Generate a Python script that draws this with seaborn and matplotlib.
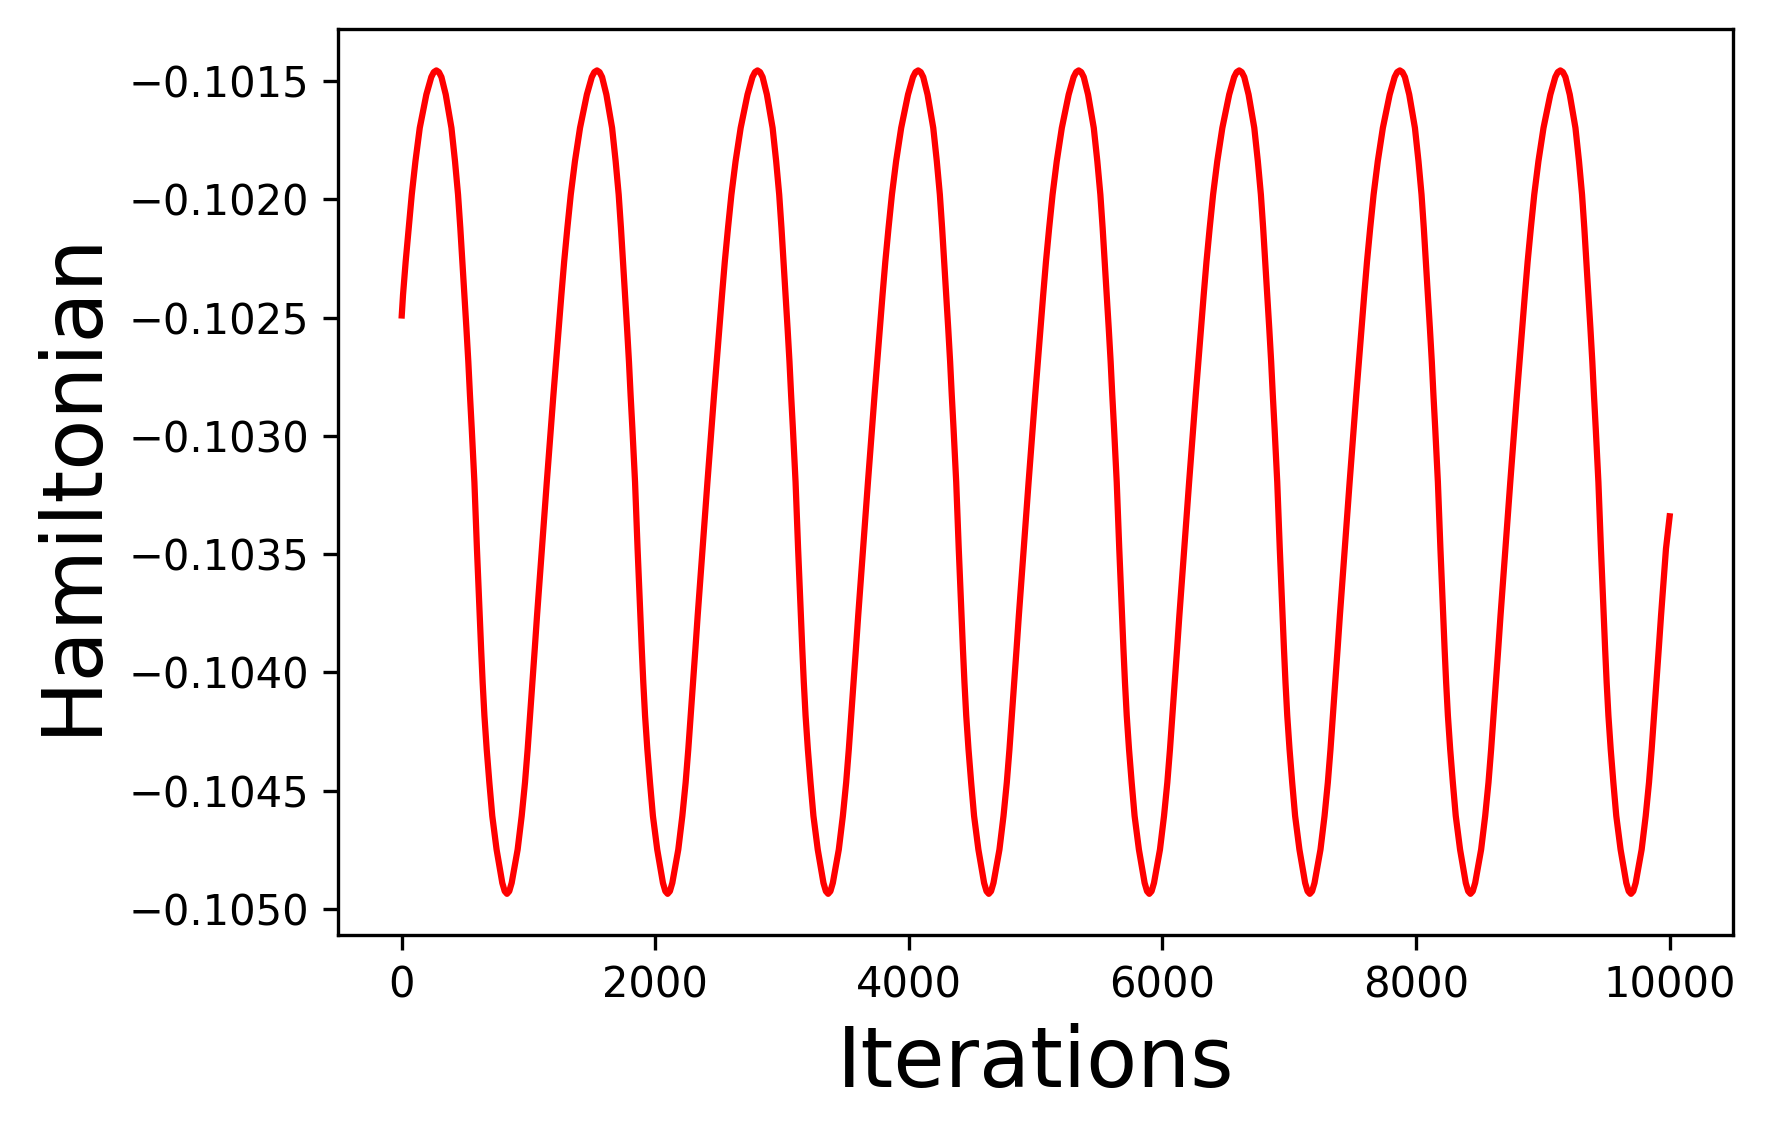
import pandas as pd
import matplotlib
matplotlib.use("Agg")
import matplotlib.pyplot as plt
import seaborn as sns

# one oscillation: iterations after a peak -> Hamiltonian
cycle_offset = [0, 20, 40, 74, 119, 147, 171, 189, 205, 221,
                237, 252, 265, 279, 292, 300, 310, 320, 331, 342,
                353, 365, 379, 397, 418, 441, 475, 520, 539, 557,
                575, 594, 641, 673, 699, 720, 739, 757, 776, 794,
                813, 833, 852, 871, 883, 903, 923, 944, 965, 986,
                1008, 1033, 1060, 1093, 1133, 1187, 1226, 1246]
cycle_value = [-0.101455, -0.101462, -0.101483, -0.101557, -0.101698, -0.101839, -0.101980, -0.102122, -0.102263, -0.102404,
               -0.102545, -0.102686, -0.102828, -0.102969, -0.103110, -0.103195, -0.103336, -0.103477, -0.103619, -0.103760,
               -0.103901, -0.104042, -0.104183, -0.104325, -0.104466, -0.104607, -0.104749, -0.104890, -0.104925, -0.104936,
               -0.104925, -0.104890, -0.104749, -0.104607, -0.104466, -0.104325, -0.104183, -0.104042, -0.103901, -0.103760,
               -0.103619, -0.103477, -0.103336, -0.103195, -0.103110, -0.102969, -0.102828, -0.102686, -0.102545, -0.102404,
               -0.102263, -0.102122, -0.101980, -0.101839, -0.101698, -0.101557, -0.101483, -0.101462]

# iteration of each peak
peak_iters = [273, 1540, 2806, 4073, 5339, 6605, 7872, 9138]

# rising part before the first peak
start_iter = [0, 10, 31, 55, 79, 108, 142, 194, 233, 253]
start_value = [-0.102491, -0.102404, -0.102263, -0.102122, -0.101980,
               -0.101839, -0.101698, -0.101557, -0.101483, -0.101462]

end_iter = 10000
end_value = -0.10334

# put the series together
iters = list(start_iter)
ham = list(start_value)
for p in peak_iters:
    for off, val in zip(cycle_offset, cycle_value):
        if p + off < end_iter - 20:
            iters.append(p + off)
            ham.append(val)
iters.append(end_iter)
ham.append(end_value)
df = pd.DataFrame({"Iterations": iters, "Hamiltonian": ham})

fig = plt.figure(figsize=(1765 / 300, 1134 / 300), dpi=300)
ax = fig.add_axes([0.1917, 0.1755, 0.7902, 0.7987])

sns.lineplot(data=df, x="Iterations", y="Hamiltonian", color="red", linewidth=1.5, ax=ax)

ax.ticklabel_format(axis="y", useOffset=False)
ax.tick_params(labelsize=10)
ax.set_xlabel("Iterations", fontsize=20)
ax.set_ylabel("Hamiltonian", fontsize=20)

fig.savefig("out.png", dpi=300)
